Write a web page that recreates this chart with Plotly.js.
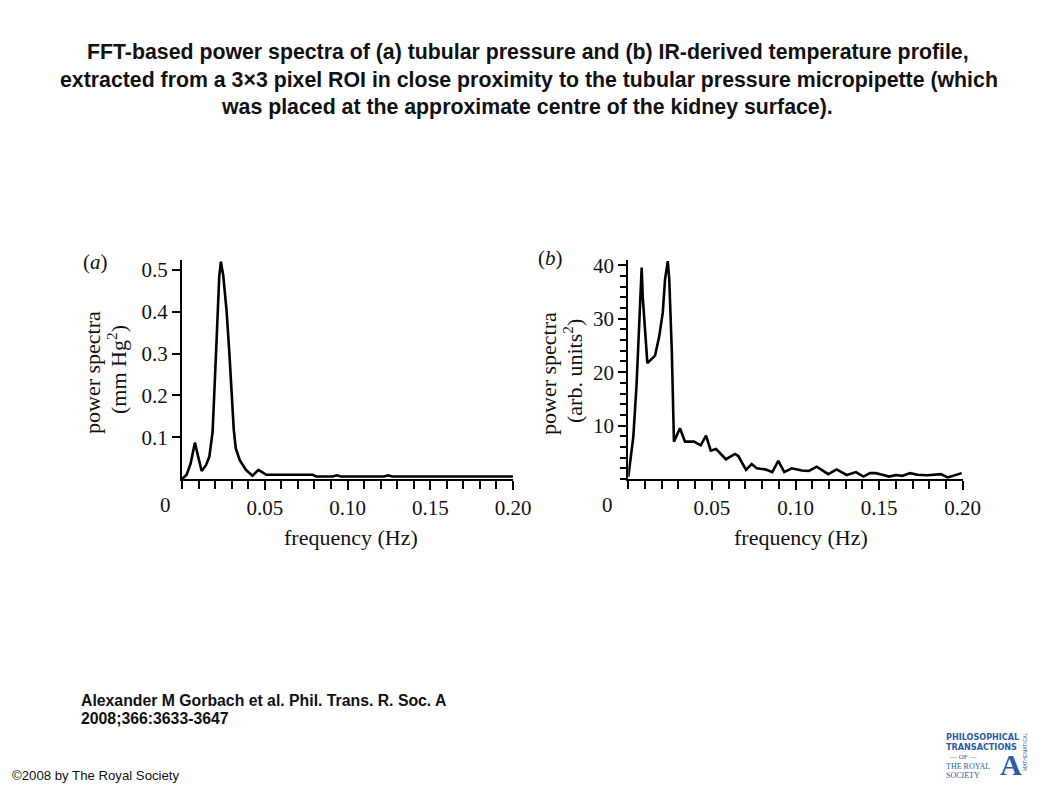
<!DOCTYPE html>
<html><head><meta charset="utf-8">
<script src="https://cdn.plot.ly/plotly-3.0.1.min.js"></script>
<style>html,body{margin:0;padding:0;background:#fff}#chart{width:1058px;height:793px}</style>
</head><body><div id="chart"></div>
<script>
// Panel (a): tubular pressure power spectrum
const freqA = [0, 0.0028, 0.0052, 0.0078, 0.0098, 0.0119, 0.0145, 0.0165, 0.0185, 0.0199, 0.0209, 0.0225, 0.0235, 0.0249, 0.0269, 0.0285, 0.0299, 0.0313, 0.0325, 0.0349, 0.0386, 0.0426, 0.0462, 0.051, 0.06, 0.079, 0.081, 0.091, 0.0935, 0.096, 0.11, 0.122, 0.1246, 0.127, 0.15, 0.18, 0.2];
const powerA = [0, 0.010, 0.037, 0.087, 0.053, 0.019, 0.033, 0.053, 0.113, 0.229, 0.333, 0.484, 0.520, 0.488, 0.404, 0.309, 0.213, 0.117, 0.073, 0.045, 0.022, 0.008, 0.022, 0.010, 0.010, 0.010, 0.006, 0.006, 0.009, 0.006, 0.006, 0.006, 0.009, 0.006, 0.006, 0.006, 0.006];
// Panel (b): IR-derived temperature power spectrum
const freqB = [0, 0.003, 0.005, 0.0066, 0.008, 0.0086, 0.0094, 0.0106, 0.0114, 0.016, 0.0185, 0.0206, 0.022, 0.0236, 0.0245, 0.026, 0.0269, 0.0273, 0.0309, 0.0339, 0.0393, 0.0433, 0.0465, 0.0493, 0.0525, 0.0548, 0.0584, 0.0638, 0.0658, 0.0704, 0.0738, 0.0768, 0.0818, 0.0861, 0.0897, 0.0933, 0.0977, 0.1037, 0.108, 0.1127, 0.1196, 0.1246, 0.1306, 0.1362, 0.1406, 0.1446, 0.148, 0.1525, 0.156, 0.160, 0.164, 0.1685, 0.173, 0.179, 0.187, 0.191, 0.195, 0.1994];
const powerB = [0.4, 7.9, 18, 30.5, 39.6, 34.3, 30.5, 24.2, 21.7, 23.1, 26.7, 31.1, 37.4, 40.8, 37.4, 24.2, 10.5, 7.0, 9.5, 7.0, 7.0, 6.3, 8.1, 5.3, 5.6, 4.8, 3.7, 4.7, 4.3, 1.7, 2.8, 2.0, 1.8, 1.3, 3.4, 1.3, 2.0, 1.6, 1.5, 2.3, 0.9, 1.8, 0.75, 1.3, 0.45, 1.1, 1.1, 0.75, 0.45, 0.75, 0.6, 1.1, 0.8, 0.7, 0.9, 0.3, 0.75, 1.1];

const xTickVals = [0.05, 0.10, 0.15, 0.20];
const xTickText = ["0.05", "0.10", "0.15", "0.20"];
const yTickValsA = [0.1, 0.2, 0.3, 0.4, 0.5];
const yTickTextA = ["0.1", "0.2", "0.3", "0.4", "0.5"];
const yTickValsB = [10, 20, 30, 40];
const yTickTextB = ["10", "20", "30", "40"];

const W = 1058, H = 793;
const px = v => v / W;
const py = v => 1 - v / H;
const serif = "Liberation Serif, Times New Roman, serif";
const sans = "Liberation Sans, Arial, sans-serif";
const tickFont = {family: serif, size: 21, color: '#111'};

function xAxis(dom, anchor) {
  return {
    domain: dom, anchor: anchor, range: [0, 0.2], showgrid: false, zeroline: false,
    showline: true, linewidth: 2, linecolor: '#000',
    tickmode: 'array', tickvals: xTickVals, ticktext: xTickText,
    ticks: 'outside', ticklen: 9, tickwidth: 2, tickcolor: '#000', tickfont: tickFont,
    minor: {tickmode: 'linear', tick0: 0, dtick: 0.01, ticks: 'outside', ticklen: 8, tickwidth: 2, tickcolor: '#000', showgrid: false},
    fixedrange: true
  };
}
function yAxis(dom, anchor, range, vals, text, minor) {
  const a = {
    domain: dom, anchor: anchor, range: range, showgrid: false, zeroline: false,
    showline: true, linewidth: 2, linecolor: '#000',
    tickmode: 'array', tickvals: vals, ticktext: text,
    ticks: 'outside', ticklen: 8, tickwidth: 2, tickcolor: '#000', tickfont: tickFont,
    fixedrange: true
  };
  if (minor) a.minor = {tickmode: 'linear', tick0: 0, dtick: minor, ticks: 'outside', ticklen: 6, tickwidth: 2, tickcolor: '#000', showgrid: false};
  return a;
}

const yDom = [py(479), py(260)];
const data = [
  {x: freqA, y: powerA, type: 'scatter', mode: 'lines', line: {color: '#000', width: 2.6}, xaxis: 'x', yaxis: 'y', hoverinfo: 'skip'},
  {x: freqB, y: powerB, type: 'scatter', mode: 'lines', line: {color: '#000', width: 2.6}, xaxis: 'x2', yaxis: 'y2', hoverinfo: 'skip'}
];

function ann(text, x, y, size, opts) {
  return Object.assign({text: text, xref: 'paper', yref: 'paper', x: px(x), y: py(y), showarrow: false,
    xanchor: 'center', yanchor: 'middle', font: {family: serif, size: size, color: '#111'}}, opts || {});
}
const blue = '#2b5ba8';
const titleFont = {family: sans, size: 21.3, color: '#111'};
const citeFont = {family: sans, size: 15.8, color: '#111'};
const annotations = [
  ann('<b>FFT-based power spectra of (a) tubular pressure and (b) IR-derived temperature profile,</b>', 528, 52, 21, {font: titleFont}),
  ann('<b>extracted from a 3×3 pixel ROI in close proximity to the tubular pressure micropipette (which</b>', 529, 80, 21, {font: titleFont}),
  ann('<b>was placed at the approximate centre of the kidney surface).</b>', 527, 107, 21, {font: titleFont}),
  ann('(<i>a</i>)', 95, 262, 21),
  ann('(<i>b</i>)', 550, 258, 21),
  ann('power spectra', 93, 373, 22, {textangle: -90}),
  ann('(mm Hg<sup>2</sup>)', 117, 370, 22, {textangle: -90}),
  ann('power spectra', 548, 374, 22, {textangle: -90}),
  ann('(arb. units<sup>2</sup>)', 573, 371, 22, {textangle: -90}),
  ann('frequency (Hz)', 351, 537, 22),
  ann('frequency (Hz)', 801, 537, 22),
  {text: '0', xref: 'x', yref: 'paper', x: 0, y: py(505), xshift: -17, showarrow: false, xanchor: 'center', yanchor: 'middle', font: tickFont},
  {text: '0', xref: 'x2', yref: 'paper', x: 0, y: py(505), xshift: -21, showarrow: false, xanchor: 'center', yanchor: 'middle', font: tickFont},
  ann('<b>Alexander M Gorbach et al. Phil. Trans. R. Soc. A</b>', 79, 700, 15.8, {xanchor: 'left', font: citeFont}),
  ann('<b>2008;366:3633-3647</b>', 79, 718, 15.8, {xanchor: 'left', font: citeFont}),
  ann('©2008 by The Royal Society', 10, 775, 13.2, {xanchor: 'left', font: {family: sans, size: 13.2, color: '#111'}}),
  // logo
  ann('<b>PHILOSOPHICAL</b>', 944, 737, 9, {xanchor: 'left', font: {family: 'DejaVu Sans Condensed, Liberation Sans Narrow, sans-serif', size: 9, color: blue}}),
  ann('<b>TRANSACTIONS</b>', 944, 747, 9, {xanchor: 'left', font: {family: 'DejaVu Sans Condensed, Liberation Sans Narrow, sans-serif', size: 9, color: blue}}),
  ann('— OF —', 963, 757, 7, {font: {family: serif, size: 7, color: blue}}),
  ann('THE ROYAL', 944, 766, 8, {xanchor: 'left', font: {family: serif, size: 8, color: blue}}),
  ann('SOCIETY', 944, 775, 8, {xanchor: 'left', font: {family: serif, size: 8, color: blue}}),
  ann('<b>A</b>', 1011, 764, 30, {font: {family: serif, size: 30, color: blue}}),
  ann('MATHEMATICAL', 1025, 752, 5, {textangle: -90, font: {family: sans, size: 5, color: blue}})
];

const layout = {
  width: W, height: H, margin: {l: 0, r: 0, t: 0, b: 0},
  paper_bgcolor: '#fff', plot_bgcolor: '#fff', showlegend: false,
  xaxis: xAxis([px(182), px(513)], 'y'),
  yaxis: yAxis(yDom, 'x', [0, 0.524], yTickValsA, yTickTextA, null),
  xaxis2: xAxis([px(628.3), px(962.7)], 'y2'),
  yaxis2: yAxis(yDom, 'x2', [0, 41], yTickValsB, yTickTextB, 2),
  annotations: annotations
};
Plotly.newPlot('chart', data, layout, {displayModeBar: false, staticPlot: true});
</script></body></html>
